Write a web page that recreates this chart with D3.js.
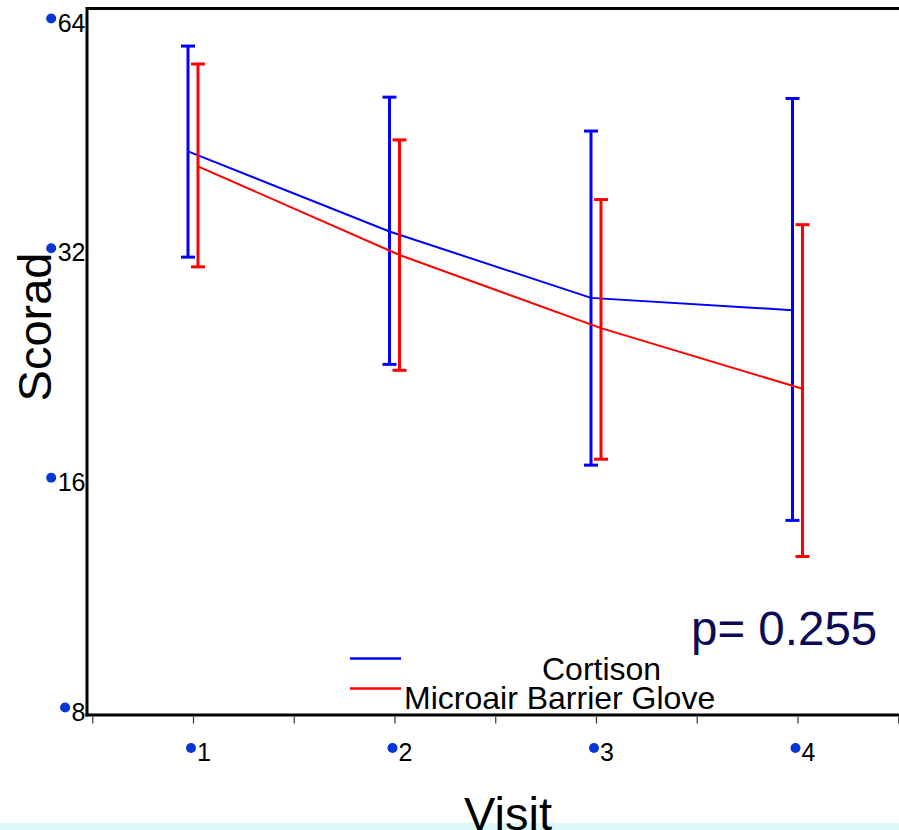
<!DOCTYPE html>
<html>
<head>
<meta charset="utf-8">
<script src="https://cdn.jsdelivr.net/npm/d3@7"></script>
<style>
  html, body { margin: 0; padding: 0; background: #ffffff; }
  svg { display: block; }
  text { font-family: "Liberation Sans", Arial, sans-serif; }
</style>
</head>
<body>
<script>
// ---- data ----
const visits = [1, 2, 3, 4];
const seriesNames = ["Cortison", "Microair Barrier Glove"];
const cortisonMean  = [42.8, 33.6, 27.5, 26.5];
const cortisonUpper = [58.8, 50.4, 45.5, 50.2];
const cortisonLower = [31.1, 22.5, 16.6, 14.05];
const gloveMean  = [40.9, 31.3, 25.1, 20.9];
const gloveUpper = [55.7, 44.3, 37.0, 34.3];
const gloveLower = [30.2, 22.1, 16.9, 12.6];
const yTicks = [8, 16, 32, 64];
const xMinorTicks = [0.5, 1, 1.5, 2, 2.5, 3, 3.5, 4, 4.5];
const pText = "p= 0.255";

const W = 899, H = 830;
const svg = d3.select("body").append("svg").attr("width", W).attr("height", H);

svg.append("rect").attr("x", 0).attr("y", 0).attr("width", W).attr("height", H).attr("fill", "#ffffff");
svg.append("rect").attr("x", 0).attr("y", 823).attr("width", W).attr("height", 7).attr("fill", "#ddf8f8");

const y = d3.scaleLog().base(2).domain([8, 64]).range([707, 18]);
const x = d3.scaleLinear().domain([1, 4]).range([193, 797.5]);

const axisLeftX = 87, axisBottomY = 715;

// frame lines
svg.append("line").attr("x1", axisLeftX).attr("x2", W).attr("y1", 8.5).attr("y2", 8.5)
  .attr("stroke", "#000").attr("stroke-width", 3);
svg.append("line").attr("x1", axisLeftX).attr("x2", axisLeftX).attr("y1", 7).attr("y2", axisBottomY + 1.5)
  .attr("stroke", "#000").attr("stroke-width", 3);
svg.append("line").attr("x1", axisLeftX - 1.5).attr("x2", W).attr("y1", axisBottomY).attr("y2", axisBottomY)
  .attr("stroke", "#000").attr("stroke-width", 3);

// x minor ticks via axis
const xAxisG = svg.append("g").attr("transform", `translate(0,${axisBottomY + 1.5})`)
  .call(d3.axisBottom(x).tickValues(xMinorTicks).tickSize(7).tickFormat(""));
xAxisG.select(".domain").remove();
xAxisG.selectAll(".tick line").attr("stroke", "#333").attr("stroke-width", 1.2);

// x labels with bullet dots
const xLab = svg.append("g").attr("transform", `translate(0,${axisBottomY})`)
  .call(d3.axisBottom(x).tickValues(visits).tickSize(0).tickFormat(d3.format("d")));
xLab.select(".domain").remove();
xLab.selectAll(".tick text")
  .attr("text-anchor", "start").attr("x", 3.5).attr("y", 46).attr("dy", 0)
  .attr("font-size", 25).attr("fill", "#000")
  .style("font-family", '"Liberation Sans", Arial, sans-serif');
xLab.selectAll(".tick").append("circle")
  .attr("cx", -2.5).attr("cy", 33).attr("r", 5).attr("fill", "#0636d6");

// y labels with bullet dots
const yLab = svg.append("g").attr("transform", `translate(${axisLeftX - 1.5},0)`)
  .call(d3.axisLeft(y).tickValues(yTicks).tickSize(0).tickPadding(0).tickFormat(d3.format("d")));
yLab.select(".domain").remove();
yLab.selectAll(".tick text")
  .attr("x", 0).attr("dy", 13).attr("font-size", 25).attr("fill", "#000")
  .style("font-family", '"Liberation Sans", Arial, sans-serif');
yLab.selectAll(".tick").each(function() {
  const t = d3.select(this).select("text");
  const len = t.node().getComputedTextLength();
  d3.select(this).append("circle").attr("cx", -len - 6.5).attr("cy", 0).attr("r", 5).attr("fill", "#0636d6");
});

// series
const series = [
  { name: seriesNames[0], color: "#0000ff", off: -5, mean: cortisonMean, up: cortisonUpper, lo: cortisonLower },
  { name: seriesNames[1], color: "#ff0000", off: 5, mean: gloveMean, up: gloveUpper, lo: gloveLower }
];
const line = d3.line().x(d => d[0]).y(d => d[1]);

series.forEach(s => {
  const pts = visits.map((v, i) => [x(v) + s.off, y(s.mean[i])]);
  svg.append("path").attr("d", line(pts)).attr("fill", "none")
    .attr("stroke", s.color).attr("stroke-width", 2);
  const g = svg.append("g");
  visits.forEach((v, i) => {
    const cx = x(v) + s.off;
    g.append("line").attr("x1", cx).attr("x2", cx).attr("y1", y(s.up[i])).attr("y2", y(s.lo[i]))
      .attr("stroke", s.color).attr("stroke-width", 3);
    [s.up[i], s.lo[i]].forEach(val => {
      g.append("line").attr("x1", cx - 7).attr("x2", cx + 7).attr("y1", y(val)).attr("y2", y(val))
        .attr("stroke", s.color).attr("stroke-width", 3);
    });
  });
});

// legend
const legendY = [658.5, 688.5];
const legendTextPos = [[542, 680], [404, 708.5]];
series.forEach((s, i) => {
  svg.append("line").attr("x1", 350).attr("x2", 401).attr("y1", legendY[i]).attr("y2", legendY[i])
    .attr("stroke", s.color).attr("stroke-width", 2.5);
  svg.append("text").attr("x", legendTextPos[i][0]).attr("y", legendTextPos[i][1])
    .attr("font-size", 32).attr("fill", "#000").text(s.name);
});

// p value
svg.append("text").attr("x", 691).attr("y", 645).attr("font-size", 47.5)
  .attr("fill", "#0b0b55").text(pText);

// axis titles
svg.append("text").attr("x", 508).attr("y", 830).attr("text-anchor", "middle")
  .attr("font-size", 47).attr("fill", "#000").text("Visit");
svg.append("text").attr("transform", "translate(51,327) rotate(-90)").attr("text-anchor", "middle")
  .attr("font-size", 47).attr("fill", "#000").text("Scorad");
</script>
</body>
</html>
